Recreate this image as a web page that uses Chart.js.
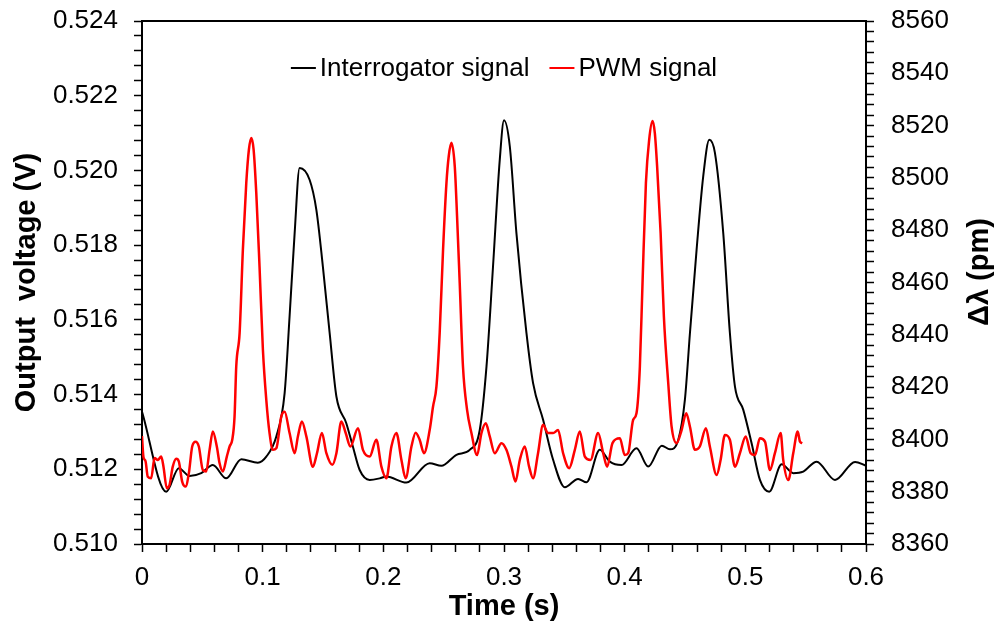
<!DOCTYPE html>
<html>
<head>
<meta charset="utf-8">
<script src="https://cdn.jsdelivr.net/npm/chart.js@4.4.1/dist/chart.umd.min.js"></script>
<style>
  html, body { margin: 0; padding: 0; background: #fff; }
</style>
</head>
<body>
<canvas id="chart" width="1001" height="627"></canvas>
<script>
// axis tick labels
const timeTicks = [0, 0.1, 0.2, 0.3, 0.4, 0.5, 0.6];
const voltageTicks = [0.510, 0.512, 0.514, 0.516, 0.518, 0.520, 0.522, 0.524];
const shiftTicks = [8360, 8380, 8400, 8420, 8440, 8460, 8480, 8500, 8520, 8540, 8560];

// Interrogator signal (right axis, pm)
const interrogatorTime = [0, 0.0201, 0.0305, 0.0394, 0.0491, 0.0587, 0.0698, 0.0823, 0.0960, 0.1030,
  0.1113, 0.1182, 0.1223, 0.1265, 0.1306, 0.1389, 0.1445, 0.1499, 0.1555, 0.1611,
  0.1693, 0.1748, 0.1804, 0.1887, 0.1970, 0.2025, 0.2191, 0.2384, 0.2481, 0.2606,
  0.2716, 0.2799, 0.2855, 0.2909, 0.2965, 0.3000, 0.3048, 0.3103, 0.3186, 0.3241,
  0.3324, 0.3407, 0.3504, 0.3614, 0.3684, 0.3794, 0.3877, 0.3974, 0.4098, 0.4195,
  0.4308, 0.4375, 0.4444, 0.4499, 0.4541, 0.4596, 0.4651, 0.4701, 0.4748, 0.4817,
  0.4872, 0.4914, 0.4983, 0.5052, 0.5121, 0.5198, 0.5301, 0.5397, 0.5480, 0.5591,
  0.5743, 0.5909, 0.6000];
const interrogatorShift = [8410.6, 8380.0, 8389.0, 8386.0, 8387.1, 8390.2, 8385.1, 8392.4, 8391.1, 8393.4,
  8401.1, 8417.7, 8447.0, 8478.9, 8503.8, 8499.3, 8487.8, 8466.1, 8440.7, 8416.4,
  8406.2, 8397.2, 8388.3, 8384.5, 8385.1, 8385.8, 8383.5, 8390.9, 8389.9, 8394.1,
  8396.0, 8403.6, 8427.9, 8466.1, 8507.0, 8522.0, 8512.1, 8478.9, 8440.7, 8421.5,
  8407.5, 8392.2, 8381.7, 8384.9, 8383.6, 8396.0, 8391.5, 8390.2, 8396.6, 8389.6,
  8397.6, 8396.2, 8399.8, 8415.1, 8440.7, 8472.5, 8500.6, 8514.6, 8509.6, 8478.9,
  8440.7, 8420.2, 8411.3, 8398.5, 8384.5, 8380.0, 8390.5, 8387.1, 8387.7, 8391.5,
  8384.5, 8391.4, 8389.9];

// PWM signal (left axis, V)
const pwmTime = [0, 0.0012, 0.0029, 0.0048, 0.0076, 0.0104, 0.0131, 0.0159, 0.0178, 0.0206,
  0.0228, 0.0255, 0.0284, 0.0305, 0.0333, 0.0361, 0.0388, 0.0416, 0.0444, 0.0471,
  0.0504, 0.0532, 0.0560, 0.0587, 0.0620, 0.0643, 0.0670, 0.0703, 0.0726, 0.0748,
  0.0767, 0.0781, 0.0809, 0.0836, 0.0864, 0.0886, 0.0906, 0.0925, 0.0947, 0.0974,
  0.1002, 0.1030, 0.1057, 0.1085, 0.1113, 0.1154, 0.1182, 0.1223, 0.1265, 0.1292,
  0.1325, 0.1362, 0.1416, 0.1450, 0.1491, 0.1528, 0.1577, 0.1611, 0.1652, 0.1688,
  0.1727, 0.1790, 0.1831, 0.1887, 0.1942, 0.1984, 0.2025, 0.2067, 0.2108, 0.2150,
  0.2185, 0.2233, 0.2268, 0.2301, 0.2337, 0.2384, 0.2412, 0.2440, 0.2467, 0.2495,
  0.2523, 0.2542, 0.2564, 0.2592, 0.2611, 0.2633, 0.2660, 0.2694, 0.2730, 0.2777,
  0.2813, 0.2849, 0.2882, 0.2923, 0.2979, 0.3020, 0.3062, 0.3095, 0.3131, 0.3172,
  0.3208, 0.3241, 0.3282, 0.3324, 0.3365, 0.3407, 0.3448, 0.3490, 0.3540, 0.3587,
  0.3628, 0.3670, 0.3717, 0.3780, 0.3822, 0.3855, 0.3899, 0.3960, 0.4001, 0.4029,
  0.4070, 0.4098, 0.4126, 0.4148, 0.4176, 0.4203, 0.4231, 0.4250, 0.4269, 0.4298,
  0.4325, 0.4361, 0.4389, 0.4430, 0.4472, 0.4510, 0.4541, 0.4582, 0.4623, 0.4673,
  0.4706, 0.4762, 0.4795, 0.4831, 0.4872, 0.4914, 0.4955, 0.5003, 0.5044, 0.5080,
  0.5121, 0.5163, 0.5204, 0.5245, 0.5293, 0.5314, 0.5356, 0.5397, 0.5434, 0.5453, 0.5472];
const pwmVoltage = [0.51289, 0.51233, 0.51222, 0.51180, 0.51176, 0.51230, 0.51225, 0.51234, 0.51207, 0.51149,
  0.51158, 0.51207, 0.51228, 0.51221, 0.51167, 0.51154, 0.51189, 0.51261, 0.51274, 0.51261,
  0.51198, 0.51194, 0.51252, 0.51301, 0.51261, 0.51216, 0.51194, 0.51234, 0.51261, 0.51279,
  0.51341, 0.51475, 0.51565, 0.51788, 0.51966, 0.52056, 0.52087, 0.52056, 0.51940, 0.51743,
  0.51520, 0.51386, 0.51297, 0.51252, 0.51256, 0.51341, 0.51354, 0.51297, 0.51243, 0.51288,
  0.51328, 0.51288, 0.51207, 0.51243, 0.51297, 0.51243, 0.51212, 0.51243, 0.51328, 0.51297,
  0.51261, 0.51310, 0.51252, 0.51234, 0.51279, 0.51207, 0.51176, 0.51261, 0.51297, 0.51225,
  0.51176, 0.51261, 0.51298, 0.51279, 0.51243, 0.51305, 0.51368, 0.51421, 0.51565, 0.51788,
  0.51966, 0.52038, 0.52074, 0.52011, 0.51877, 0.51699, 0.51475, 0.51359, 0.51297, 0.51238,
  0.51297, 0.51323, 0.51288, 0.51243, 0.51270, 0.51252, 0.51207, 0.51167, 0.51225, 0.51261,
  0.51207, 0.51176, 0.51243, 0.51319, 0.51297, 0.51297, 0.51305, 0.51243, 0.51203, 0.51252,
  0.51301, 0.51234, 0.51225, 0.51297, 0.51243, 0.51207, 0.51270, 0.51283, 0.51238, 0.51243,
  0.51332, 0.51350, 0.51475, 0.51699, 0.51966, 0.52082, 0.52132, 0.52100, 0.52011, 0.51832,
  0.51609, 0.51431, 0.51314, 0.51270, 0.51305, 0.51350, 0.51314, 0.51252, 0.51261, 0.51310,
  0.51261, 0.51185, 0.51225, 0.51292, 0.51279, 0.51207, 0.51243, 0.51288, 0.51243, 0.51238,
  0.51283, 0.51274, 0.51198, 0.51243, 0.51297, 0.51225, 0.51171, 0.51243, 0.51301, 0.51274, 0.51270];

const FONT = '"Liberation Sans", Arial, sans-serif';

const toPoints = (xs, ys) => xs.map((x, i) => ({ x, y: ys[i] }));

// majors from the tick arrays, plus 4 minor ticks between each pair
const withMinor = (majors, parts) => {
  const out = [];
  majors.forEach((v, i) => {
    out.push({ value: v, main: true });
    if (i < majors.length - 1) {
      const step = (majors[i + 1] - v) / parts;
      for (let k = 1; k < parts; k++) out.push({ value: v + k * step, main: false });
    }
  });
  return out;
};

// fixed box size so the plot area lands where the original has it
const fixSize = (w, h) => s => {
  if (w) s.width = w;
  if (h) s.height = h;
  s.paddingTop = 0;
  s.paddingBottom = 0;
  s.paddingLeft = 0;
  s.paddingRight = 0;
};

const axisStyle = (majors, fmt, pad) => ({
  afterBuildTicks: scale => { scale.ticks = withMinor(majors, 5); },
  grid: { drawOnChartArea: false, drawTicks: true, tickLength: 8, tickWidth: 1.5, color: '#000' },
  border: { display: true, color: '#000', width: 2 },
  ticks: {
    autoSkip: false,
    maxRotation: 0,
    padding: pad,
    color: '#000',
    font: { family: FONT, size: 26 },
    callback: (value, index, ticks) => (ticks[index].main ? fmt(value) : ''),
  },
});

const frameAndLabels = {
  id: 'frameAndLabels',
  afterDraw: chart => {
    const { ctx, chartArea } = chart;
    ctx.save();
    // top border of the plot box
    ctx.strokeStyle = '#000';
    ctx.lineWidth = 2;
    ctx.beginPath();
    ctx.moveTo(chartArea.left - 1, chartArea.top);
    ctx.lineTo(chartArea.right + 1, chartArea.top);
    ctx.stroke();

    // legend inside the plot
    ctx.font = `26px ${FONT}`;
    ctx.textBaseline = 'middle';
    ctx.textAlign = 'left';
    const items = chart.data.datasets.map(ds => ({ text: ds.label, color: ds.borderColor }));
    const lineLen = 25, gap = 4, itemGap = 20;
    const total = items.reduce((s, it) => s + lineLen + gap + ctx.measureText(it.text).width, 0) + itemGap * (items.length - 1);
    let x = (chartArea.left + chartArea.right) / 2 - total / 2;
    const y = chartArea.top + 47;
    items.forEach(it => {
      ctx.strokeStyle = it.color;
      ctx.lineWidth = 2;
      ctx.beginPath();
      ctx.moveTo(x, y);
      ctx.lineTo(x + lineLen, y);
      ctx.stroke();
      ctx.fillStyle = '#000';
      ctx.fillText(it.text, x + lineLen + gap, y + 1);
      x += lineLen + gap + ctx.measureText(it.text).width + itemGap;
    });

    // right axis title, reads bottom to top
    ctx.translate(980, 272);
    ctx.rotate(-Math.PI / 2);
    ctx.font = `bold 29px ${FONT}`;
    ctx.textAlign = 'center';
    ctx.fillText('\u0394\u03bb (pm)', 0, 0);
    ctx.restore();
  },
};

const ctx = document.getElementById('chart').getContext('2d');
new Chart(ctx, {
  type: 'line',
  data: {
    datasets: [
      {
        label: 'Interrogator signal',
        data: toPoints(interrogatorTime, interrogatorShift),
        yAxisID: 'y1',
        borderColor: '#000000',
        borderWidth: 2,
        pointRadius: 0,
        cubicInterpolationMode: 'monotone',
        order: 1,
      },
      {
        label: 'PWM signal',
        data: toPoints(pwmTime, pwmVoltage),
        yAxisID: 'y',
        borderColor: '#ff0000',
        borderWidth: 2.5,
        pointRadius: 0,
        cubicInterpolationMode: 'monotone',
        order: 0,
      },
    ],
  },
  plugins: [frameAndLabels],
  options: {
    responsive: false,
    animation: false,
    layout: { padding: { top: 21, left: 0, right: 0, bottom: 0 } },
    plugins: {
      legend: { display: false },
      tooltip: { enabled: false },
    },
    scales: {
      x: {
        type: 'linear',
        position: 'bottom',
        min: 0,
        max: 0.6,
        afterFit: fixSize(0, 83),
        title: {
          display: true,
          text: 'Time (s)',
          color: '#000',
          font: { family: FONT, size: 29, weight: 'bold' },
          padding: { top: 0, bottom: 3 },
        },
        ...axisStyle(timeTicks, v => String(Math.round(v * 10) / 10), 10),
      },
      y: {
        type: 'linear',
        position: 'left',
        min: 0.510,
        max: 0.524,
        afterFit: fixSize(142, 0),
        title: {
          display: true,
          text: 'Output  voltage (V)',
          color: '#000',
          font: { family: FONT, size: 29, weight: 'bold' },
          padding: { top: 10, bottom: 0 },
        },
        ...axisStyle(voltageTicks, v => v.toFixed(3), 16),
      },
      y1: {
        type: 'linear',
        position: 'right',
        min: 8360,
        max: 8560,
        afterFit: fixSize(135, 0),
        ...axisStyle(shiftTicks, v => String(Math.round(v)), 17),
      },
    },
  },
});
</script>
</body>
</html>
